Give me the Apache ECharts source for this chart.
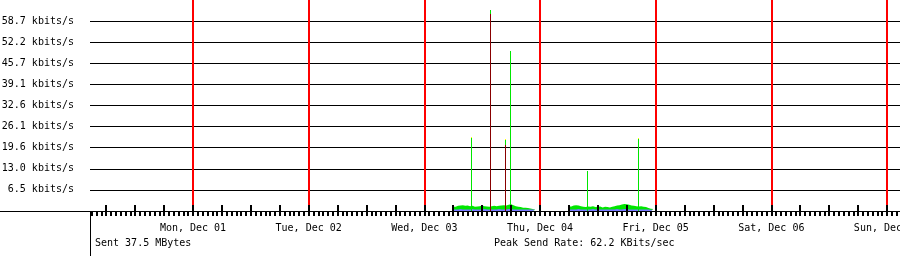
<!DOCTYPE html>
<html><head><meta charset="utf-8">
<script src="https://cdn.jsdelivr.net/npm/echarts@6/dist/echarts.min.js"></script>
<style>html,body{margin:0;padding:0;background:#fff}#c{width:900px;height:256px}</style>
</head><body><div id="c"></div>
<script>
// ---- data (hours since Mon, Dec 01 00:00; rates in kbits/s) ----
const dayLabels = ['Mon, Dec 01','Tue, Dec 02','Wed, Dec 03','Thu, Dec 04','Fri, Dec 05','Sat, Dec 06','Sun, Dec 07'];
const dayHours = [0, 24, 48, 72, 96, 120, 144];
const yTickLabels = ['6.5 kbits/s','13.0 kbits/s','19.6 kbits/s','26.1 kbits/s','32.6 kbits/s','39.1 kbits/s','45.7 kbits/s','52.2 kbits/s','58.7 kbits/s'];
const yStep = 6.525;
const sampleStep = 0.5;          // hours between samples
const inStart1 = 54;             // Wed 06:00
const inRate1 = [1.3,1.6,1.7,1.8,1.6,1.7,1.5,1.6,1.3,1.4,1.5,1.7,1.5,1.4,1.3,1.5,1.6,1.5,1.6,1.7,1.8,1.7,1.9,2.1,1.8,1.5,1.3,1.2,1.0,1.0,0.9,0.8,0.6,0.4,0];
const outRate1 = [0.5,0.5,0.6,0.5,0.5,0.5,0.5,0.6,0.5,0.5,0.5,0.5,0.6,0.5,0.5,0.5,0.5,0.5,0.6,0.5,0.5,0.5,0.6,0.6,0.5,0.5,0.5,0.5,0.5,0.5,0.5,0.5,0.5,0.4,0];
const inStart2 = 78;             // Thu 06:00
const inRate2 = [1.4,1.7,1.8,1.7,1.5,1.3,1.2,1.4,1.3,1.5,1.2,1.3,1.4,1.1,1.3,1.2,1.1,1.3,1.5,1.7,1.8,2.0,2.2,2.1,1.9,1.7,1.6,1.5,1.4,1.5,1.3,1.2,0.9,0.7,0.6,0];
const outRate2 = [0.5,0.5,0.5,0.6,0.5,0.5,0.5,0.5,0.5,0.6,0.5,0.5,0.5,0.5,0.5,0.5,0.5,0.5,0.5,0.6,0.5,0.5,0.6,0.6,0.5,0.5,0.5,0.5,0.5,0.5,0.5,0.5,0.5,0.4,0.4,0];
const peakSpikes = [[57.8, 23.0], [64.8, 22.3], [92.45, 22.7]];
const inSpikes = [[57.8, 22.6], [61.7, 62.2], [64.8, 21.9], [65.85, 49.3], [81.85, 12.3], [92.45, 22.3]];
const maxSpikes = [[61.7, 60.8], [64.8, 20.5]];
const sentText = 'Sent 37.5 MBytes';
const peakText = 'Peak Send Rate: 62.2 KBits/sec';

const X_MIN = -21.37, X_MAX = 146.7, Y_MAX = 65.2;
const FONT = 'DejaVu Sans Mono';
const GREEN = '#00e600', OUTC = '#7878ff', MAROON = '#880000', YELLOW = '#ffff00';

function toPairs(start, arr) { return arr.map((v, i) => [start + i * sampleStep, v]); }
const hourTicks = [], sixHourTicks = [];
for (let h = -21; h <= 146; h++) { hourTicks.push(h); if (h % 6 === 0) sixHourTicks.push(h); }

function spikeRender(color) {
  return function (params, api) {
    const top = api.coord([api.value(0), api.value(1)]);
    const base = api.coord([api.value(0), 0]);
    const x = Math.floor(top[0]) + 0.5;
    return { type: 'line', shape: { x1: x, y1: Math.round(top[1]), x2: x, y2: Math.round(base[1]) },
             style: { stroke: color, lineWidth: 1, opacity: 1 } };
  };
}

const areaBase = { type: 'line', step: 'end', symbol: 'none', showSymbol: false, lineStyle: { width: 0, opacity: 0 },
                   silent: true, xAxisIndex: 0, yAxisIndex: 0 };
const gridBox = { left: 90, right: 0, top: 0, bottom: 45, containLabel: false, outerBoundsMode: 'none' };

const chart = echarts.init(document.getElementById('c'), null, { renderer: 'canvas' });
chart.setOption({
  animation: false,
  backgroundColor: '#ffffff',
  grid: [Object.assign({}, gridBox), Object.assign({}, gridBox, { z: 10 })],
  xAxis: [
    { type: 'value', gridIndex: 0, position: 'bottom', min: X_MIN, max: X_MAX,
      axisLine: { show: true, onZero: false, lineStyle: { color: '#000', width: 1 } },
      axisTick: { show: true, customValues: hourTicks, length: 5, inside: false, lineStyle: { color: '#000', width: 2 } },
      axisLabel: { show: true, customValues: dayHours, margin: 12, color: '#000', fontFamily: FONT, fontSize: 10,
                   formatter: v => { const i = dayHours.indexOf(v); return i >= 0 ? dayLabels[i] : ''; } },
      splitLine: { show: false } },
    { type: 'value', gridIndex: 1, position: 'bottom', min: X_MIN, max: X_MAX, z: 10,
      axisLine: { show: false, onZero: false },
      axisTick: { show: true, customValues: sixHourTicks, length: 6, inside: true, lineStyle: { color: '#000', width: 2 } },
      axisLabel: { show: false }, splitLine: { show: false } }
  ],
  yAxis: [
    { type: 'value', gridIndex: 0, min: 0, max: Y_MAX, interval: yStep,
      axisLine: { show: true, lineStyle: { color: '#000', width: 1 } },
      axisTick: { show: false },
      axisLabel: { margin: 16, color: '#000', fontFamily: FONT, fontSize: 10,
        formatter: v => { const i = Math.round(v / yStep) - 1;
          return (i >= 0 && i < yTickLabels.length && Math.abs(v - (i + 1) * yStep) < 1e-6) ? yTickLabels[i] : ''; } },
      splitLine: { show: true, showMinLine: false, showMaxLine: false, lineStyle: { color: '#000', width: 1 } } },
    { type: 'value', gridIndex: 1, min: 0, max: Y_MAX, show: false }
  ],
  series: [
    Object.assign({}, areaBase, { name: 'in1', data: toPairs(inStart1, inRate1), areaStyle: { color: GREEN, opacity: 1 }, z: 2,
      markLine: { silent: true, symbol: 'none', label: { show: false }, animation: false,
        lineStyle: { color: '#ff0000', width: 2, type: 'solid' }, data: dayHours.map(h => ({ xAxis: h })) } }),
    Object.assign({}, areaBase, { name: 'in2', data: toPairs(inStart2, inRate2), areaStyle: { color: GREEN, opacity: 1 }, z: 2 }),
    Object.assign({}, areaBase, { name: 'out1', data: toPairs(inStart1, outRate1), areaStyle: { color: OUTC, opacity: 1 }, z: 3 }),
    Object.assign({}, areaBase, { name: 'out2', data: toPairs(inStart2, outRate2), areaStyle: { color: OUTC, opacity: 1 }, z: 3 }),
    { type: 'custom', name: 'peakSpike', xAxisIndex: 0, yAxisIndex: 0, renderItem: spikeRender(YELLOW), data: peakSpikes,
      encode: { x: 0, y: 1 }, z: 4, silent: true },
    { type: 'custom', name: 'inSpike', xAxisIndex: 0, yAxisIndex: 0, renderItem: spikeRender(GREEN), data: inSpikes,
      encode: { x: 0, y: 1 }, z: 5, silent: true },
    { type: 'custom', name: 'maxSpike', xAxisIndex: 0, yAxisIndex: 0, renderItem: spikeRender(MAROON), data: maxSpikes,
      encode: { x: 0, y: 1 }, z: 6, silent: true }
  ],
  graphic: [
    { type: 'line', silent: true, shape: { x1: 90.5, y1: 211, x2: 90.5, y2: 256 }, style: { stroke: '#000', lineWidth: 1 } },
    { type: 'line', silent: true, shape: { x1: 0, y1: 211.5, x2: 90, y2: 211.5 }, style: { stroke: '#000', lineWidth: 1 } },
    { type: 'text', left: 95, top: 238, silent: true, style: { text: sentText, font: '10px ' + FONT, fill: '#000' } },
    { type: 'text', left: 494, top: 238, silent: true, style: { text: peakText, font: '10px ' + FONT, fill: '#000' } }
  ]
});
</script>
</body></html>
